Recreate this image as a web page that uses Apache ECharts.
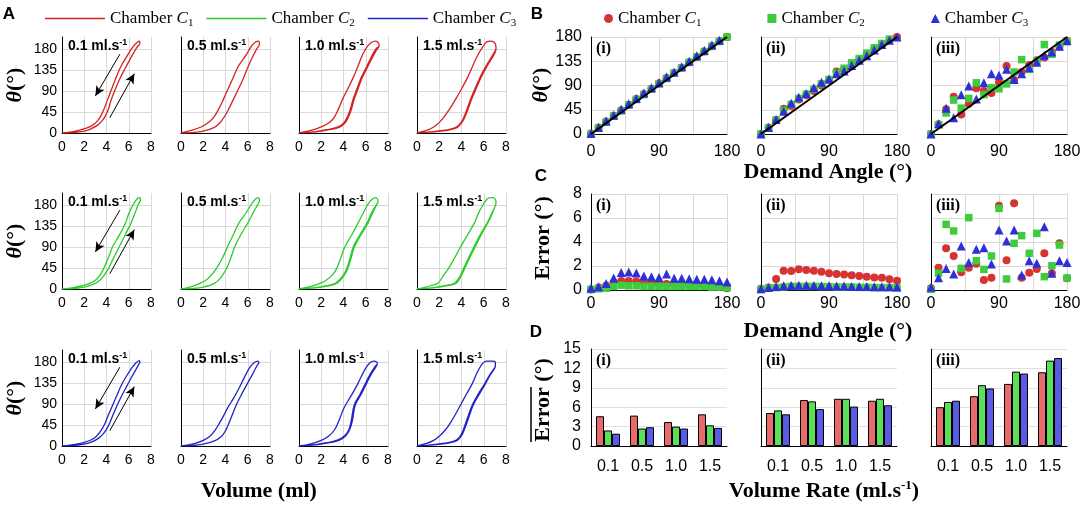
<!DOCTYPE html>
<html>
<head>
<meta charset="utf-8">
<script src="https://cdn.jsdelivr.net/npm/echarts@6/dist/echarts.min.js"></script>
<style>
  html, body { margin: 0; padding: 0; background: #fff; }
  #chart { width: 1084px; height: 506px; }
</style>
</head>
<body>
<div id="chart"></div>
<script>
// ---- data ----
var rates = ['0.1', '0.5', '1.0', '1.5'];
var demandAngles = [0, 10, 20, 30, 40, 50, 60, 70, 80, 90, 100, 110, 120, 130, 140, 150, 160, 170, 180];

// hysteresis loops, [volume (ml), angle (deg)], loading then unloading
var loopC1_01 = [[0,0],[1,1],[2,4],[2.6,9],[3.2,17],[3.6,26],[3.9,37],[4.15,50],[4.4,70],[4.8,95],[5.2,117],[5.6,136],[6.0,154],[6.4,171],[6.75,185],[7.0,193],[6.95,198],[6.6,192],[6.2,180],[5.8,164],[5.3,144],[4.9,122],[4.5,97],[4.1,72],[3.8,53],[3.5,37],[3.15,25],[2.7,16],[2.1,10],[1.4,5],[0.7,2],[0,0]];
var loopC1_05 = [[0,0],[1,1],[2,4],[3,12],[3.5,22],[3.9,35],[4.25,50],[4.7,72],[5.1,92],[5.5,112],[6.05,144],[6.45,165],[6.8,181],[7.0,188],[7.05,194],[6.95,198],[6.7,196],[6.3,186],[5.9,170],[5.5,156],[5.15,144],[4.7,120],[4.25,96],[3.8,72],[3.4,52],[3.0,36],[2.5,23],[1.8,13],[1,6],[0,0]];
var loopC1_10 = [[0,0],[1.5,3],[2.5,7],[3.5,13],[4.0,21],[4.35,35],[4.6,50],[4.85,72],[5.2,95],[5.6,120],[6.1,144],[6.5,164],[6.9,181],[7.2,188],[7.15,194],[6.9,198],[6.5,195],[6.1,185],[5.7,168],[5.3,144],[4.9,121],[4.4,96],[3.9,72],[3.55,52],[3.2,35],[2.7,22],[2.0,13],[1.0,5],[0,0],[1.5,2.5],[2.5,6],[3.6,12],[4.15,22],[4.45,35],[4.7,50],[4.95,72],[5.3,95],[5.7,120],[6.2,144],[6.6,163],[6.95,178],[7.2,187]];
var loopC1_15 = [[0,0],[1.5,3],[2.5,6],[3.5,12],[4.0,24],[4.35,42],[4.8,72],[5.2,95],[5.7,122],[6.2,144],[6.6,160],[6.95,174],[7.1,183],[7.05,192],[6.85,197],[6.6,198],[6.3,197],[5.9,185],[5.4,165],[5.0,144],[4.55,120],[4.0,95],[3.45,72],[3.0,54],[2.5,37],[2.05,24],[1.5,13],[0.8,5],[0,0],[1.5,2.5],[2.5,5],[3.55,11],[4.1,25],[4.45,43],[4.9,72],[5.3,95],[5.8,122],[6.3,144],[6.7,160],[7.05,175],[7.1,183]];

var loopC2_01 = [[0,0],[1,1],[2,4],[2.8,10],[3.4,19],[3.8,30],[4.2,45],[4.6,65],[5.17,92],[5.7,118],[6.2,142],[6.55,163],[6.85,182],[7.05,192],[6.95,197],[6.7,193],[6.35,180],[6.0,162],[5.7,142],[5.1,114],[4.57,92],[4.15,67],[3.77,45],[3.45,31],[3.05,20],[2.5,12],[1.8,7],[1,3],[0,0]];
var loopC2_05 = [[0,0],[1,1],[2,4],[3,12],[3.6,25],[4.1,45],[4.45,65],[4.85,92],[5.4,118],[6.0,142],[6.5,165],[6.9,182],[7.05,190],[6.95,197],[6.7,194],[6.3,182],[5.9,166],[5.2,142],[4.7,117],[4.2,92],[3.75,68],[3.2,45],[2.8,32],[2.3,20],[1.6,11],[0.8,4],[0,0]];
var loopC2_10 = [[0,0],[1.5,3],[2.5,7],[3.3,13],[3.9,27],[4.3,45],[4.6,68],[4.9,92],[5.5,118],[6.1,142],[6.5,163],[6.9,180],[7.1,188],[7.05,194],[6.9,197],[6.6,194],[6.2,183],[5.8,165],[5.3,142],[4.75,117],[4.15,92],[3.75,67],[3.4,45],[3.0,30],[2.5,20],[2.0,13],[1,5],[0,0],[1.5,2.5],[2.5,6],[3.4,12],[4.0,27],[4.4,45],[4.7,68],[5.0,92],[5.6,118],[6.2,142],[6.6,163],[6.95,180],[7.1,187]];
var loopC2_15 = [[0,0],[1.5,3],[2.5,7],[3.4,13],[3.85,27],[4.2,45],[4.65,68],[5.15,92],[5.7,118],[6.3,142],[6.7,162],[7.05,180],[7.1,187],[7.05,193],[6.85,197],[6.6,197],[6.3,194],[5.9,180],[5.5,162],[5.15,142],[4.55,117],[3.94,92],[3.4,68],[2.85,45],[2.4,30],[1.9,13],[1.2,7],[0.6,3],[0,0],[1.5,2.5],[2.5,6],[3.5,12],[3.95,27],[4.3,45],[4.75,68],[5.25,92],[5.8,118],[6.35,142],[6.75,162],[7.1,184]];

var loopC3_01 = [[0,0],[1,1],[2,4],[2.7,9],[3.3,17],[3.7,26],[4.0,36],[4.3,50],[4.6,68],[5.0,90],[5.4,110],[5.8,128],[6.2,146],[6.6,163],[6.9,176],[7.0,181],[6.95,184],[6.6,178],[6.2,166],[5.8,151],[5.35,132],[4.95,110],[4.55,88],[4.15,66],[3.85,48],[3.5,33],[3.1,21],[2.6,13],[2.0,8],[1.3,4],[0.6,1.5],[0,0]];
var loopC3_05 = [[0,0],[1,1],[2,4],[3,11],[3.6,20],[4.0,33],[4.4,55],[4.96,88],[5.5,114],[6.0,136],[6.5,158],[6.85,174],[7.0,180],[6.9,183],[6.6,180],[6.2,170],[5.7,148],[5.2,124],[4.7,102],[4.26,85],[3.8,64],[3.4,47],[3.04,33],[2.6,21],[2.0,12],[1.2,5],[0,0]];
var loopC3_10 = [[0,0],[1.5,3],[2.5,7],[3.5,13],[4.1,22],[4.48,35],[4.7,55],[4.96,88],[5.5,112],[5.95,134],[6.4,155],[6.8,170],[7.04,178],[7.0,181],[6.72,183],[6.4,180],[6.0,168],[5.6,150],[5.28,134],[4.85,115],[4.4,97],[4.0,80],[3.6,55],[3.2,35],[2.7,22],[2.0,12],[1,4],[0,0],[1.5,2.5],[2.5,6],[3.6,12],[4.2,22],[4.55,35],[4.8,55],[5.05,88],[5.6,112],[6.05,134],[6.5,155],[6.85,168],[7.04,176]];
var loopC3_15 = [[0,0],[1.5,3],[2.5,6],[3.5,12],[3.9,22],[4.16,35],[4.5,58],[4.96,88],[5.5,112],[6.08,134],[6.5,152],[6.9,166],[7.04,172],[7.04,180],[6.8,183],[6.24,183],[5.9,178],[5.4,158],[4.96,134],[4.45,112],[3.95,90],[3.45,68],[3.0,50],[2.56,35],[2.05,22],[1.5,12],[0.8,5],[0,0],[1.5,2.5],[2.5,5],[3.55,11],[4.0,22],[4.25,35],[4.6,58],[5.05,88],[5.6,112],[6.15,134],[6.55,152],[6.95,166],[7.04,172]];

// arrows in the first column: [from, to] in (volume, angle)
var arrowDown = [[5.2, 170], [3.0, 80]];
var arrowUp = [[4.3, 33], [6.5, 128]];

// B: measured angle vs demand angle, panels (i) (ii) (iii)
var angleC1_i = [1, 12, 23, 34, 44, 54, 65, 74, 84, 94, 104, 113, 123, 133, 143, 153, 163, 172, 180];
var angleC2_i = [0, 11, 22, 33, 43, 54, 64, 73, 83, 93, 103, 113, 123, 133, 143, 153, 163, 172, 180];
var angleC3_i = [1, 12, 24, 35, 46, 56, 66, 76, 86, 95, 106, 115, 125, 135, 145, 155, 165, 174, 181];
var angleC1_ii = [0, 12, 26, 47, 52, 64, 72, 80, 90, 100, 116, 120, 130, 138, 148, 158, 166, 174, 180];
var angleC2_ii = [0, 11, 26, 44, 55, 66, 74, 83, 93, 101, 113, 122, 132, 140, 150, 160, 168, 176, 181];
var angleC3_ii = [0, 12, 27, 42, 57, 68, 75, 86, 96, 102, 112, 117, 127, 137, 145, 156, 166, 174, 180];
var angleC1_iii = [0, 18, 46, 69, 36, 56, 85, 80, 76, 96, 126, 100, 115, 128, 137, 142, 152, 162, 173];
var angleC2_iii = [0, 17, 39, 63, 48, 66, 95, 73, 86, 84, 93, 115, 138, 120, 135, 166, 148, 165, 172];
var angleC3_iii = [0, 19, 48, 30, 73, 89, 65, 95, 112, 109, 120, 101, 112, 123, 133, 146, 152, 163, 173];

// C: error vs demand angle
var errC1_i = [0.05, 0.2, 0.35, 0.6, 0.75, 0.75, 0.7, 0.65, 0.6, 0.55, 0.5, 0.45, 0.45, 0.4, 0.4, 0.35, 0.3, 0.25, 0.15];
var errC2_i = [0.05, 0.1, 0.15, 0.3, 0.4, 0.35, 0.35, 0.3, 0.3, 0.3, 0.3, 0.3, 0.3, 0.3, 0.3, 0.3, 0.25, 0.25, 0.2];
var errC3_i = [0.14, 0.28, 0.55, 1.0, 1.45, 1.5, 1.42, 1.17, 1.1, 1.05, 1.33, 0.97, 0.97, 0.94, 0.89, 0.89, 0.86, 0.78, 0.67];
var errC1_ii = [0.1, 0.2, 0.92, 1.6, 1.58, 1.72, 1.67, 1.61, 1.53, 1.39, 1.33, 1.3, 1.22, 1.17, 1.1, 1.05, 1.03, 0.89, 0.78];
var errC2_ii = [0.05, 0.15, 0.2, 0.25, 0.3, 0.3, 0.3, 0.3, 0.28, 0.28, 0.25, 0.25, 0.25, 0.22, 0.22, 0.2, 0.2, 0.2, 0.18];
var errC3_ii = [0.1, 0.2, 0.3, 0.35, 0.38, 0.4, 0.4, 0.38, 0.36, 0.35, 0.33, 0.33, 0.3, 0.3, 0.3, 0.28, 0.28, 0.28, 0.25];
var errC1_iii = [0.14, 1.86, 3.47, 2.83, 1.47, 1.86, 2.19, 0.83, 1.03, 7.03, 2.47, 7.22, 1.03, 1.44, 1.75, 3.06, 1.4, 3.89, 0.97];
var errC2_iii = [0.05, 1.4, 5.47, 4.92, 1.8, 6.03, 2.44, 1.72, 2.83, 6.8, 0.92, 3.89, 4.53, 3.06, 4.72, 1.11, 2.03, 3.75, 1.0];
var errC3_iii = [0.22, 1.03, 1.8, 1.33, 3.67, 2.3, 3.39, 3.53, 2.17, 5.0, 4.08, 5.0, 1.25, 2.44, 2.22, 5.28, 1.39, 2.44, 2.3];

// D: mean error per volume rate
var meanErrC1_i = [4.6, 4.7, 3.7, 4.9];
var meanErrC2_i = [2.4, 2.7, 3.0, 3.2];
var meanErrC3_i = [1.9, 2.9, 2.7, 2.8];
var meanErrC1_ii = [5.1, 7.1, 7.3, 7.0];
var meanErrC2_ii = [5.5, 6.9, 7.3, 7.3];
var meanErrC3_ii = [4.9, 5.7, 6.1, 6.3];
var meanErrC1_iii = [6.0, 7.7, 9.6, 11.4];
var meanErrC2_iii = [6.8, 9.4, 11.5, 13.2];
var meanErrC3_iii = [7.0, 8.9, 11.2, 13.6];

// ---- layout / style ----
var SANS = 'Liberation Sans';
var SERIF = 'Liberation Serif';
var lineColors = ['#d42222', '#2bcc2b', '#2222c8'];
var dotColors = ['#d63333', '#3ccc3c', '#2f2fd8'];
var barColors = ['#e86a6a', '#5be05b', '#5a5ae6'];
var dotSymbols = ['circle', 'rect', 'triangle'];
var dotSizes = [8, 7.5, 9];
var romans = ['(i)', '(ii)', '(iii)'];

var colLeftA = [62, 181, 299, 417], wA = 89;
var rowTopA = [37, 193, 350], hA = 96;
var colLeftR = [591, 761, 931], wR = 136;
var rowTopR = [37, 194, 349], hR = 97;

var loops = [
  [loopC1_01, loopC1_05, loopC1_10, loopC1_15],
  [loopC2_01, loopC2_05, loopC2_10, loopC2_15],
  [loopC3_01, loopC3_05, loopC3_10, loopC3_15]
];
var angles = [[angleC1_i, angleC1_ii, angleC1_iii], [angleC2_i, angleC2_ii, angleC2_iii], [angleC3_i, angleC3_ii, angleC3_iii]];
var errors = [[errC1_i, errC1_ii, errC1_iii], [errC2_i, errC2_ii, errC2_iii], [errC3_i, errC3_ii, errC3_iii]];
var meanErrs = [[meanErrC1_i, meanErrC1_ii, meanErrC1_iii], [meanErrC2_i, meanErrC2_ii, meanErrC2_iii], [meanErrC3_i, meanErrC3_ii, meanErrC3_iii]];

var grids = [], xAxes = [], yAxes = [], series = [], graphics = [];

var blackAxis = { show: true, onZero: false, lineStyle: { color: '#000', width: 1 } };
var grayGrid = { show: true, lineStyle: { color: '#d9d9d9', width: 1 } };
var noTick = { show: false };

function pairUp(xs, ys) {
  return xs.map(function (x, i) { return [x, ys[i]]; });
}

// ---- panel A: hysteresis loops ----
for (var c = 0; c < 3; c++) {
  for (var r = 0; r < 4; r++) {
    var g = grids.length;
    grids.push({ left: colLeftA[r], top: rowTopA[c], width: wA, height: hA });
    xAxes.push({
      type: 'value', gridIndex: g, min: 0, max: 8, interval: 2,
      axisLine: blackAxis, axisTick: noTick, splitLine: grayGrid,
      axisLabel: { fontFamily: SANS, fontSize: 14, color: '#000', margin: 7 }
    });
    yAxes.push({
      type: 'value', gridIndex: g, min: 0, max: 207, interval: 45,
      axisLine: blackAxis, axisTick: noTick,
      splitLine: { show: true, showMaxLine: false, lineStyle: { color: '#d9d9d9', width: 1 } },
      axisLabel: {
        show: r === 0, fontFamily: SANS, fontSize: 14, color: '#000', margin: 5,
        formatter: function (v) { return v % 45 === 0 ? v : ''; }
      }
    });
    var s = {
      type: 'line', name: 'lineC' + (c + 1), xAxisIndex: g, yAxisIndex: g,
      data: loops[c][r], symbol: 'none', smooth: 0.35,
      lineStyle: { width: 1.3, color: lineColors[c] }, itemStyle: { color: lineColors[c] }
    };
    if (r === 0) {
      s.markLine = {
        silent: true, symbol: ['none', 'arrow'], symbolSize: [7, 10],
        label: { show: false }, lineStyle: { color: '#000', width: 1, type: 'solid' },
        data: [
          [{ coord: arrowDown[0] }, { coord: arrowDown[1] }],
          [{ coord: arrowUp[0] }, { coord: arrowUp[1] }]
        ]
      };
    }
    series.push(s);
    graphics.push({
      type: 'text', x: colLeftA[r] + 6, y: rowTopA[c] + 9, z: 10,
      style: {
        text: '{a|' + rates[r] + ' ml.s}{b|-1}', align: 'left', verticalAlign: 'middle',
        rich: {
          a: { fontFamily: SANS, fontWeight: 'bold', fontSize: 14, fill: '#000', lineHeight: 16 },
          b: { fontFamily: SANS, fontWeight: 'bold', fontSize: 9, fill: '#000', verticalAlign: 'top', lineHeight: 10 }
        }
      }
    });
  }
  graphics.push({
    type: 'text', x: 15, y: rowTopA[c] + 48, rotation: Math.PI / 2,
    style: {
      text: '{a|θ}{b|(°)}', align: 'center', verticalAlign: 'middle',
      rich: {
        a: { fontFamily: SERIF, fontWeight: 'bold', fontStyle: 'italic', fontSize: 22, fill: '#000' },
        b: { fontFamily: SERIF, fontWeight: 'bold', fontSize: 22, fill: '#000' }
      }
    }
  });
}

// ---- panels B, C, D ----
for (var k = 0; k < 3; k++) {
  // B
  var gb = grids.length;
  grids.push({ left: colLeftR[k], top: rowTopR[0], width: wR, height: hR });
  xAxes.push({
    type: 'value', gridIndex: gb, min: 0, max: 180, interval: 45,
    axisLine: blackAxis, axisTick: noTick, splitLine: grayGrid,
    axisLabel: { fontFamily: SANS, fontSize: 16, color: '#000', margin: 10,
      formatter: function (v) { return v % 90 === 0 ? v : ''; } }
  });
  yAxes.push({
    type: 'value', gridIndex: gb, min: 0, max: 180, interval: 45,
    axisLine: blackAxis, axisTick: noTick, splitLine: grayGrid,
    axisLabel: { show: k === 0, fontFamily: SANS, fontSize: 16, color: '#000', margin: 9 }
  });
  for (var cb = 0; cb < 3; cb++) {
    series.push({
      type: 'scatter', name: 'dotC' + (cb + 1), xAxisIndex: gb, yAxisIndex: gb,
      data: pairUp(demandAngles, angles[cb][k]),
      symbol: dotSymbols[cb], symbolSize: dotSizes[cb],
      itemStyle: { color: dotColors[cb], opacity: 1 }, z: 2
    });
  }
  series.push({
    type: 'line', name: 'demand', xAxisIndex: gb, yAxisIndex: gb,
    data: [[0, 0], [180, 180]], symbol: 'none', silent: true,
    lineStyle: { color: '#000', width: 2 }, z: 5
  });

  // C
  var gc = grids.length;
  grids.push({ left: colLeftR[k], top: rowTopR[1], width: wR, height: 96 });
  xAxes.push({
    type: 'value', gridIndex: gc, min: 0, max: 180, interval: 45,
    axisLine: blackAxis, axisTick: noTick, splitLine: grayGrid,
    axisLabel: { fontFamily: SANS, fontSize: 16, color: '#000', margin: 6,
      formatter: function (v) { return v % 90 === 0 ? v : ''; } }
  });
  yAxes.push({
    type: 'value', gridIndex: gc, min: 0, max: 8, interval: 2,
    axisLine: blackAxis, axisTick: noTick, splitLine: grayGrid,
    axisLabel: { show: k === 0, fontFamily: SANS, fontSize: 16, color: '#000', margin: 9 }
  });
  for (var cc = 0; cc < 3; cc++) {
    series.push({
      type: 'scatter', name: 'dotC' + (cc + 1), xAxisIndex: gc, yAxisIndex: gc,
      data: pairUp(demandAngles, errors[cc][k]),
      symbol: dotSymbols[cc], symbolSize: dotSizes[cc],
      itemStyle: { color: dotColors[cc], opacity: 1 }, z: 2
    });
  }

  // D
  var gd = grids.length;
  grids.push({ left: colLeftR[k], top: rowTopR[2], width: wR, height: hR });
  xAxes.push({
    type: 'category', gridIndex: gd, data: rates,
    axisLine: blackAxis, axisTick: noTick, splitLine: { show: false },
    axisLabel: { fontFamily: SANS, fontSize: 16, color: '#000', margin: 13 }
  });
  yAxes.push({
    type: 'value', gridIndex: gd, min: 0, max: 15, interval: 3,
    axisLine: blackAxis, axisTick: noTick,
    splitLine: { show: true, lineStyle: { color: '#e0e0e0', width: 1 } },
    axisLabel: { show: k === 0, fontFamily: SANS, fontSize: 16, color: '#000', margin: 10 }
  });
  for (var cd = 0; cd < 3; cd++) {
    series.push({
      type: 'bar', name: 'barC' + (cd + 1), xAxisIndex: gd, yAxisIndex: gd,
      data: meanErrs[cd][k], barWidth: 8, barGap: '0%',
      itemStyle: { color: barColors[cd], borderColor: '#000', borderWidth: 1 }
    });
  }

  for (var p = 0; p < 3; p++) {
    graphics.push({
      type: 'text', x: colLeftR[k] + 5, y: rowTopR[p] + 12, z: 10,
      style: { text: romans[k], font: 'bold 16px "Liberation Serif"', fill: '#000',
        align: 'left', verticalAlign: 'middle' }
    });
  }
}

// ---- titles, axis names and panel letters ----
function label(text, x, y, size, family, rot) {
  return {
    type: 'text', x: x, y: y, rotation: rot || 0,
    style: { text: text, font: 'bold ' + size + 'px "' + family + '"', fill: '#000',
      align: 'center', verticalAlign: 'middle' }
  };
}
graphics.push(label('A', 9, 14, 17, SANS));
graphics.push(label('B', 537, 14, 17, SANS));
graphics.push(label('C', 541, 176, 17, SANS));
graphics.push(label('D', 536, 332, 17, SANS));
graphics.push(label('Volume (ml)', 259, 491, 22, SERIF));
graphics.push(label('Demand Angle (°)', 828, 172, 22, SERIF));
graphics.push(label('Demand Angle (°)', 828, 331, 22, SERIF));
graphics.push(label('Error (°)', 543, 238, 22, SERIF, Math.PI / 2));
graphics.push(label('Error (°)', 543, 400, 22, SERIF, Math.PI / 2));
graphics.push({
  type: 'line', shape: { x1: 531, y1: 387, x2: 531, y2: 442 },
  style: { stroke: '#000', lineWidth: 1.5 }
});
graphics.push({
  type: 'text', x: 541, y: 85, rotation: Math.PI / 2,
  style: {
    text: '{a|θ}{b|(°)}', align: 'center', verticalAlign: 'middle',
    rich: {
      a: { fontFamily: SERIF, fontWeight: 'bold', fontStyle: 'italic', fontSize: 22, fill: '#000' },
      b: { fontFamily: SERIF, fontWeight: 'bold', fontSize: 22, fill: '#000' }
    }
  }
});
graphics.push({
  type: 'text', x: 824, y: 491,
  style: {
    text: '{a|Volume Rate (ml.s}{b|-1}{a|)}', align: 'center', verticalAlign: 'middle',
    rich: {
      a: { fontFamily: SERIF, fontWeight: 'bold', fontSize: 22, fill: '#000', lineHeight: 24 },
      b: { fontFamily: SERIF, fontWeight: 'bold', fontSize: 13, fill: '#000', verticalAlign: 'top', lineHeight: 14 }
    }
  }
});

function chamberName(name) {
  return '{t|Chamber }{c|C}{s|' + name.slice(-1) + '}';
}
var legendRich = {
  t: { fontFamily: SERIF, fontSize: 17, color: '#000', lineHeight: 20 },
  c: { fontFamily: SERIF, fontStyle: 'italic', fontSize: 17, color: '#000', lineHeight: 20 },
  s: { fontFamily: SERIF, fontSize: 11, color: '#000', lineHeight: 12, verticalAlign: 'bottom' }
};

var option = {
  animation: false,
  backgroundColor: '#fff',
  grid: grids,
  xAxis: xAxes,
  yAxis: yAxes,
  legend: [
    {
      data: [
        { name: 'lineC1', icon: 'rect' },
        { name: 'lineC2', icon: 'rect' },
        { name: 'lineC3', icon: 'rect' }
      ],
      left: 40, top: 5, selectedMode: false,
      itemWidth: 60, itemHeight: 1.4, itemGap: 13, formatter: chamberName,
      textStyle: { rich: legendRich }
    },
    {
      data: ['dotC1', 'dotC2', 'dotC3'], left: 599, top: 5, selectedMode: false,
      itemWidth: 9, itemHeight: 9, itemGap: 66, formatter: chamberName,
      textStyle: { rich: legendRich }
    }
  ],
  graphic: { elements: graphics },
  series: series
};

var chart = echarts.init(document.getElementById('chart'));
chart.setOption(option);
</script>
</body>
</html>
